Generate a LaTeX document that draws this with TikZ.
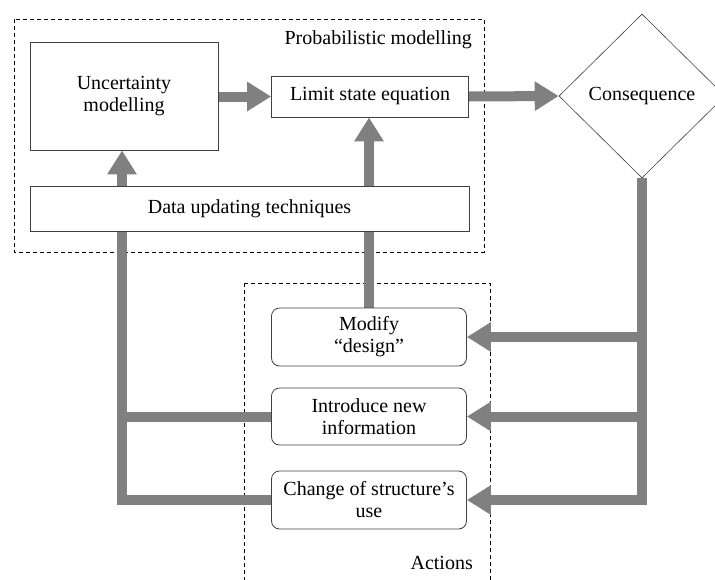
\documentclass[tikz,border=0pt]{standalone}
\usepackage{fontspec}
\setmainfont{Liberation Serif}
\usetikzlibrary{shapes.geometric,arrows.meta}
\pgfdeclarelayer{bg}
\pgfdeclarelayer{mid}
\pgfsetlayers{bg,mid,main}
\definecolor{flowgray}{RGB}{128,128,128}
\definecolor{boxline}{RGB}{64,64,64}
\begin{document}
\begin{tikzpicture}[x=1pt,y=-1pt,
  font=\fontsize{20}{22}\selectfont,
  box/.style={draw=boxline,line width=0.8pt,fill=white,align=center,inner sep=0pt},
  actbox/.style={box,rounded corners=8pt,minimum width=195pt,minimum height=58pt},
  frame/.style={draw=black,line width=0.8pt,dash pattern=on 4pt off 3pt},
  flowline/.style={draw=flowgray,line width=10pt,line join=miter},
  flow/.style={flowline,-{Triangle[width=28pt,length=24pt]}}]
\useasboundingbox (0,0) rectangle (715,579);

% nodes
\node[box,minimum width=188pt,minimum height=108pt] (unc) at (124,96) {Uncertainty\\modelling};
\node[box,minimum width=197pt,minimum height=41pt] (lim) at (370,96.5) {Limit state equation};
\node[box,minimum width=439pt,minimum height=45pt] (data) at (249.5,208.5) {Data updating techniques};
\node[diamond,draw=boxline,line width=0.6pt,fill=white,inner sep=0pt,minimum width=166pt,minimum height=164pt] (cons) at (642,96) {Consequence};
\node[actbox] (mod) at (369,337) {Modify\\“design”};
\node[actbox,minimum height=57pt] (intro) at (369,416.5) {Introduce new\\information};
\node[actbox] (chg) at (369,500) {Change of structure’s\\use};
\node[anchor=east,inner sep=0pt] (plabel) at (472,40) {Probabilistic modelling};
\node[anchor=east,inner sep=0pt] (alabel) at (473,563) {Actions};
\coordinate (L) at (122,0);

% dashed frames
\begin{pgfonlayer}{bg}
\draw[frame] (14,19) rectangle (484,252);
\draw[frame] (244,283) rectangle (490,620);
\end{pgfonlayer}

% flow connectors
\begin{pgfonlayer}{mid}
\draw[flow] (unc.east |- lim.west) -- (lim.west);
\draw[flow] (lim.east) -- (cons.west);
\draw[flow] (mod.north) -- (mod.north |- lim.south);
\draw[flow] (chg.west) -| (L |- unc.south);
\draw[flowline] (intro.west) -- (intro.west -| L);
\draw[flow] (cons.south) |- (chg.east);
\draw[flow] (mod.east -| cons.south) -- (mod.east);
\draw[flow] (intro.east -| cons.south) -- (intro.east);
\end{pgfonlayer}
\end{tikzpicture}
\end{document}
